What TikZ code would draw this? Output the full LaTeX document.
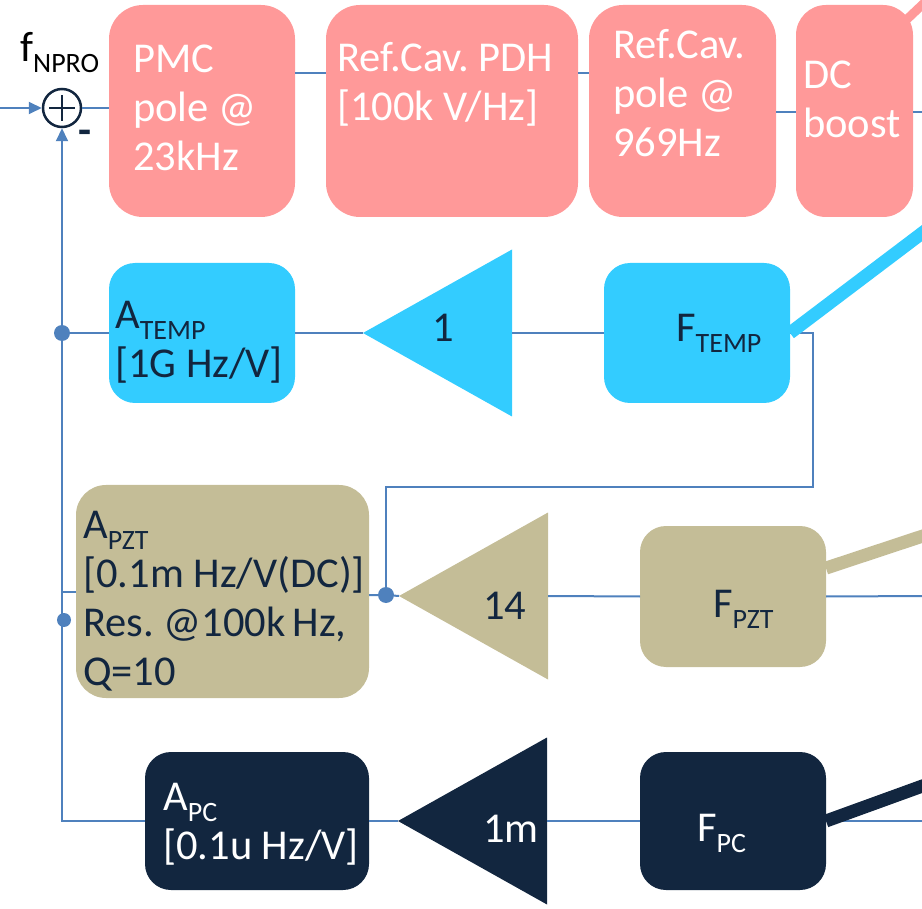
\documentclass[tikz,border=0pt]{standalone}
\usepackage{fontspec}
\setmainfont{Carlito}
\usetikzlibrary{shapes.geometric,arrows.meta}
\definecolor{pmcpink}{HTML}{FF9999}
\definecolor{tempcyan}{HTML}{33CCFF}
\definecolor{pztkhaki}{HTML}{C4BD97}
\definecolor{pcnavy}{HTML}{12263F}
\definecolor{wireblue}{HTML}{4F81BD}
\newcommand{\boxfont}{\fontsize{42.5}{49}\selectfont\frenchspacing}
\newcommand{\subtxt}[1]{\raisebox{-11pt}{\fontsize{28}{28}\selectfont #1}}

\begin{document}
\begin{tikzpicture}[x=1pt,y=-1pt,
 blk/.style={rounded corners=26pt,inner sep=0pt,outer sep=0pt,anchor=north west},
 amp/.style={isosceles triangle,isosceles triangle stretches,shape border rotate=180,
  minimum width=167pt,minimum height=149pt,inner sep=0pt,outer sep=0pt,anchor=west},
 txt/.style={anchor=base west,align=left,inner sep=0pt,font=\boxfont},
 wire/.style={draw=wireblue,line width=2pt},
 feed/.style={line width=13pt},
 dot/.style={circle,fill=wireblue,inner sep=0pt,minimum size=16pt},
 tip/.style={-{Triangle[length=13pt,width=12pt]}}]
\useasboundingbox (0,0) rectangle (922,909);
\clip (0,0) rectangle (922,909);

% plant blocks
\node[blk,rounded corners=34pt,fill=pmcpink,minimum width=186pt,minimum height=212pt] (pmc) at (109,5) {};
\node[blk,rounded corners=34pt,fill=pmcpink,minimum width=252pt,minimum height=212pt] (pdh) at (326,5) {};
\node[blk,rounded corners=34pt,fill=pmcpink,minimum width=187pt,minimum height=212pt] (pole) at (589,5) {};
\node[blk,rounded corners=30pt,fill=pmcpink,minimum width=117pt,minimum height=212pt] (dcb) at (796,5) {};

% temperature path
\node[blk,fill=tempcyan,minimum width=186pt,minimum height=140pt] (atemp) at (109,263) {};
\node[amp,fill=tempcyan] (ampt) at (363,333) {};
\node[blk,fill=tempcyan,minimum width=186pt,minimum height=140pt] (ftemp) at (604,263) {};

% PZT path
\node[blk,rounded corners=30pt,fill=pztkhaki,minimum width=293pt,minimum height=213pt] (apzt) at (76,485) {};
\node[amp,fill=pztkhaki] (ampz) at (399,596) {};
\node[blk,fill=pztkhaki,minimum width=186pt,minimum height=141pt] (fpzt) at (640,526) {};

% PC path
\node[blk,fill=pcnavy,minimum width=224pt,minimum height=138pt] (apc) at (145,752) {};
\node[amp,fill=pcnavy] (ampc) at (398,821) {};
\node[blk,fill=pcnavy,minimum width=186pt,minimum height=138pt] (fpc) at (640,752) {};

% summing point
\node[circle,draw=pcnavy,line width=2.5pt,minimum size=38pt,inner sep=0pt] (sum) at (62,108) {};
\draw[pcnavy,line width=2.5pt] ([yshift=13pt]sum.center) -- ([yshift=-13pt]sum.center)
 ([xshift=-13pt]sum.center) -- ([xshift=13pt]sum.center);
\coordinate (fin) at (0,108);
\draw[wire,tip] (fin) -- (sum.west);
\draw[wire,tip] (apc.west) -| (sum.south);

% junctions
\node[dot] (jtemp) at (atemp.west -| sum.south) {};
\node[dot] (jpzt) at (386,595) {};
\node[dot,minimum size=14pt] (jpc) at (64,620) {};
\coordinate (tempdrop) at (813,487);
\coordinate (dcbout) at (930,112);
\coordinate (pztout) at (930,596);
\coordinate (pcout) at (930,821);

% wires
\draw[wire] (sum.east) -- (pmc.west |- sum.east);
\draw[wire] (pmc.east |- 0,73) -- (pdh.west |- 0,73);
\draw[wire] (pdh.east |- 0,73) -- (pole.west |- 0,73);
\draw[wire] (pole.east |- 0,112) -- (dcb.west |- 0,112);
\draw[wire] (dcb.east |- dcbout) -- (dcbout);
\draw[wire] (jtemp) -- (atemp.west);
\draw[wire] (atemp.east) -- (ampt.west);
\draw[wire] (ampt.east) -- (ftemp.west);
\draw[wire] (ftemp.east) -| (tempdrop) -| (jpzt);
\draw[wire] (apzt.east |- jpzt) -- (jpzt) -- (ampz.west);
\draw[wire] (ampz.east) -- (fpzt.west);
\draw[wire] (fpzt.east) -- (pztout);
\draw[wire] (apzt.west |- 0,592) -- (sum.south |- 0,592);
\draw[wire] (apc.east) -- (ampc.west);
\draw[wire] (ampc.east) -- (fpc.west);
\draw[wire] (fpc.east) -- (pcout);

% outgoing signals
\coordinate (dcbfb) at (940,-12);
\coordinate (tempfb) at (950,212);
\coordinate (pztfb) at (950,527);
\coordinate (pcfb) at (950,776);
\draw[feed,pmcpink,line width=9pt] ([shift={(-10,18)}]dcb.north east) -- (dcbfb);
\draw[feed,tempcyan] (ftemp.east) -- (tempfb);
\draw[feed,pztkhaki] (fpzt.17) -- (pztfb);
\draw[feed,pcnavy] (fpc.east) -- (pcfb);

% labels (base = last line)
\node[txt,text=black] (fnpro) at (20,62) {f\subtxt{NPRO}};
\node[txt,text=pcnavy,font=\boxfont\bfseries,anchor=center] (minus) at (85,137) {-};
\node[txt,text=white] (pmctxt) at (133,171) {PMC\\pole @\\23kHz};
\node[txt,text=white] (pdhtxt) at (337,121) {Ref.Cav. PDH\\{[}100k V/Hz{]}};
\node[txt,text=white] (poletxt) at (613,157) {Ref.Cav.\\pole @\\969Hz};
\node[txt,text=white] (dcbtxt) at (803,138) {DC\\boost};
\node[txt,text=pcnavy] (atemptxt) at (115,378) {A\subtxt{TEMP}\\{[}1G Hz/V{]}};
\node[txt,text=pcnavy] (ftemptxt) at (676,342) {F\subtxt{TEMP}};
\node[txt,text=pcnavy] (apzttxt) at (83,685) {A\subtxt{PZT}\\{[}0.1m Hz/V(DC){]}\\Res. @100k\,Hz,\\Q=10};
\node[txt,text=pcnavy] (fpzttxt) at (713,617) {F\subtxt{PZT}};
\node[txt,text=white] (apctxt) at (163,859) {A\subtxt{PC}\\{[}0.1u Hz/V{]}};
\node[txt,text=white] (fpctxt) at (697,841) {F\subtxt{PC}};
\node[txt,text=pcnavy,anchor=base] (gtemp) at (443,342) {1};
\node[txt,text=pcnavy] (gpzt) at (483,619) {14};
\node[txt,text=white] (gpc) at (483,842) {1m};
\end{tikzpicture}
\end{document}
